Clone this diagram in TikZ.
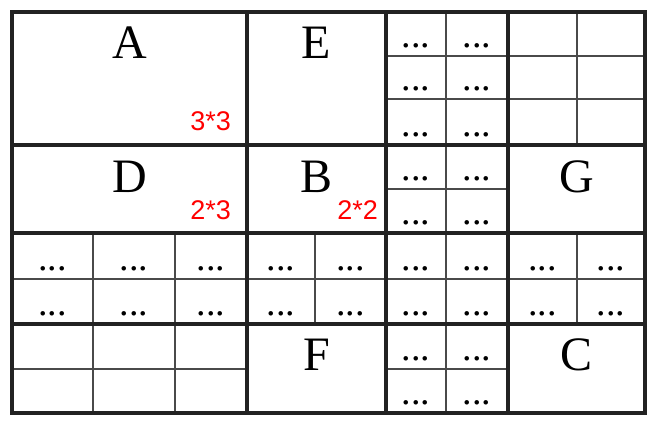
\documentclass[tikz,border=0pt]{standalone}
\usepackage{fontspec}
\setmainfont{Liberation Serif}
\newfontfamily\sizefont{Liberation Sans}
\usepackage{xcolor}
\definecolor{frameline}{HTML}{222222}
\definecolor{gridline}{HTML}{4A4A4A}
\definecolor{sizered}{HTML}{FF0000}
\usepackage{tikz}
\usetikzlibrary{positioning}

\begin{document}
\begin{tikzpicture}[
            x=1pt, y=-1pt,
            thickline/.style={draw=frameline, line width=3.8pt, line cap=rect},
            thinline/.style={draw=gridline, line width=1.2pt},
            letter/.style={anchor=base, inner sep=0pt, font=\fontsize{48}{50}\selectfont},
            sizelabel/.style={anchor=base east, inner sep=0pt, text=sizered, font=\sizefont\fontsize{27}{29}\selectfont},
            dots/.style={anchor=base, inner sep=0pt, font=\fontsize{38}{40}\selectfont}
        ]
            \useasboundingbox (0,0) rectangle (658,428);

            % Thin grid lines
            \foreach \y in {56,99} {
                \draw[thinline] (386,\y) -- (645,\y);
            }
            \draw[thinline] (386,189) -- (508,189);
            \draw[thinline] (12,279) -- (645,279);
            \draw[thinline] (12,369) -- (247,369);
            \draw[thinline] (386,369) -- (508,369);
            \foreach \x in {446,577} {
                \draw[thinline] (\x,12) -- (\x,145);
            }
            \draw[thinline] (446,145) -- (446,233);
            \foreach \x in {93,175,315,446,577} {
                \draw[thinline] (\x,233) -- (\x,324);
            }
            \foreach \x in {93,175} {
                \draw[thinline] (\x,324) -- (\x,413);
            }
            \draw[thinline] (446,324) -- (446,413);

            % Thick block lines
            \foreach \x in {12,247,386,508,645} {
                \draw[thickline] (\x,12) -- (\x,413);
            }
            \foreach \y in {12,145,233,324,413} {
                \draw[thickline] (12,\y) -- (645,\y);
            }

            % Block letters
            \node[letter] (blockA) at (129.5,59) {A};
            \node[letter] (blockE) at (316.5,59) {E};
            \node[letter] (blockD) at (129.5,192) {D};
            \node[letter] (blockB) at (316.5,192) {B};
            \node[letter] (blockG) at (576.5,192) {G};
            \node[letter] (blockF) at (316.5,370) {F};
            \node[letter] (blockC) at (576.5,370) {C};

            % Block sizes
            \node[sizelabel] (sizeA) at (231,130) {3*3};
            \node[sizelabel] (sizeD) at (231,219) {2*3};
            \node[sizelabel] (sizeB) at (378,219) {2*2};

            % Dots
            \foreach \cx/\cn in {416/6,477/7} {
                \foreach \by/\rn in {56/1,99/2,145/3,189/4,233/5,369/8,413/9} {
                    \node[dots] (dots-\rn-\cn) at (\cx,\by-8.5) {...};
                }
            }
            \foreach \cx [count=\cn] in {52.5,134,211,281,350.5,416,477,542.5,611} {
                \foreach \by/\rn in {279/6,324/7} {
                    \node[dots] (dots-\rn-\cn) at (\cx,\by-8.5) {...};
                }
            }
        \end{tikzpicture}
\end{document}
